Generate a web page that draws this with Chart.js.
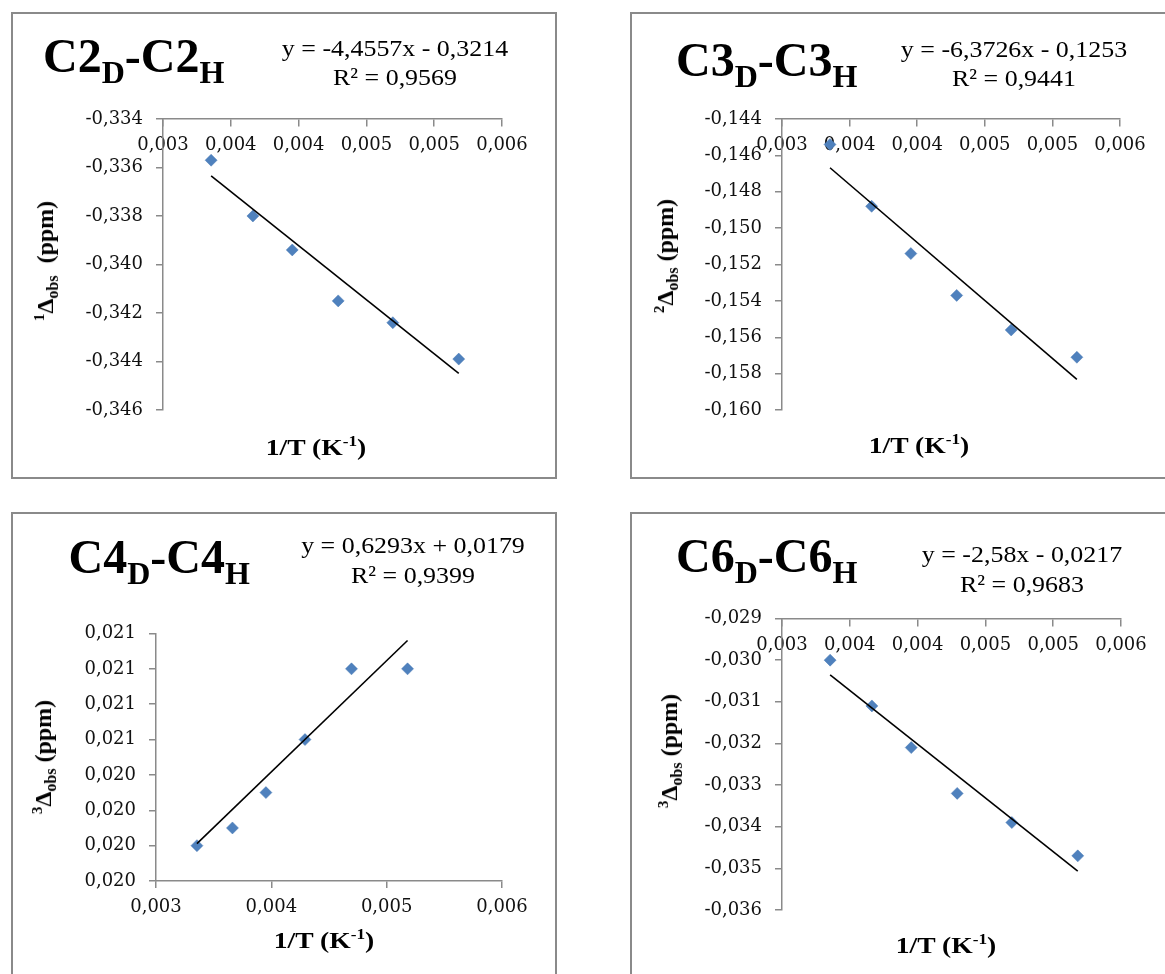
<!DOCTYPE html>
<html>
<head>
<meta charset="utf-8">
<script src="https://cdn.jsdelivr.net/npm/chart.js@4.4.1/dist/chart.umd.min.js"></script>
<style>
  html, body { margin:0; padding:0; background:#fff; width:1165px; height:974px; overflow:hidden; position:relative; }
  .box { position:absolute; border:2px solid #8a8a8a; box-sizing:border-box; }
  canvas { position:absolute; }
  .t { position:absolute; font-family:"Liberation Serif", "Times New Roman", serif; line-height:1; white-space:nowrap; color:#000; }
  .title { font-size:48px; font-weight:bold; }
  .title .s { font-size:32px; position:relative; top:11px; }
  .eq { font-size:24px; transform-origin:50% 50%; text-align:center; }
  .xt { font-size:24px; font-weight:bold; }
  .xt .sp { font-size:15px; position:relative; top:-9px; }
  .yt { font-size:24px; font-weight:bold; }
  .yt .sp { font-size:15px; position:relative; top:-9px; }
  .yt .sb { font-size:16px; position:relative; top:5px; }
</style>
</head>
<body>
<script>
// ---- data ----
const invT = [0.003355, 0.003663, 0.003953, 0.004292, 0.004695, 0.005181];   // 1/T (K^-1)
const c2Delta = [-0.3357, -0.3380, -0.3394, -0.3415, -0.3424, -0.3439];
const c3Delta = [-0.1454, -0.1488, -0.1514, -0.1537, -0.1556, -0.1571];
const c4Delta = [0.0200, 0.0201, 0.0203, 0.0206, 0.0210, 0.0210];
const c6Delta = [-0.0300, -0.0311, -0.0321, -0.0332, -0.0339, -0.0347];

const slopes = [-4.4557, -6.3726, 0.6293, -2.58];
const intercepts = [-0.3214, -0.1253, 0.0179, -0.0217];
const rSquared = [0.9569, 0.9441, 0.9399, 0.9683];

const xTicksA = [0.003, 0.0035, 0.004, 0.0045, 0.005, 0.0055];
const xLabelsA = ['0,003', '0,004', '0,004', '0,005', '0,005', '0,006'];
const xTicksB = [0.003, 0.004, 0.005, 0.006];
const xLabelsB = ['0,003', '0,004', '0,005', '0,006'];

const yTicksC2 = [-0.346, -0.344, -0.342, -0.340, -0.338, -0.336, -0.334];
const yLabelsC2 = ['-0,346', '-0,344', '-0,342', '-0,340', '-0,338', '-0,336', '-0,334'];
const yTicksC3 = [-0.160, -0.158, -0.156, -0.154, -0.152, -0.150, -0.148, -0.146, -0.144];
const yLabelsC3 = ['-0,160', '-0,158', '-0,156', '-0,154', '-0,152', '-0,150', '-0,148', '-0,146', '-0,144'];
const yTicksC4 = [0.0198, 0.0200, 0.0202, 0.0204, 0.0206, 0.0208, 0.0210, 0.0212];
const yLabelsC4 = ['0,020', '0,020', '0,020', '0,020', '0,021', '0,021', '0,021', '0,021'];
const yTicksC6 = [-0.036, -0.035, -0.034, -0.033, -0.032, -0.031, -0.030, -0.029];
const yLabelsC6 = ['-0,036', '-0,035', '-0,034', '-0,033', '-0,032', '-0,031', '-0,030', '-0,029'];

const titles = [['C2', 'D', 'C2', 'H'], ['C3', 'D', 'C3', 'H'], ['C4', 'D', 'C4', 'H'], ['C6', 'D', 'C6', 'H']];
const yTitleSup = ['1', '2', '3', '3'];

// ---- layout ----
const panels = [
  { box:[11, 12, 546, 467], canvas:[11, 12, 546, 466], area:[163, 119, 502, 410],
    y:c2Delta, yT:yTicksC2, yL:yLabelsC2, xT:xTicksA, xL:xLabelsA, xTop:true,
    title:[43, 72], eq:[395, 56.5, 85], yTitle:[45, 261], xTitle:[316, 455], gap:'&nbsp;' },
  { box:[630, 12, 600, 467], canvas:[630, 12, 535, 466], area:[782, 119, 1120, 410],
    y:c3Delta, yT:yTicksC3, yL:yLabelsC3, xT:xTicksA, xL:xLabelsA, xTop:true,
    title:[676, 76], eq:[1014, 57.5, 86.5], yTitle:[665, 256], xTitle:[919, 453], gap:'' },
  { box:[11, 512, 546, 500], canvas:[11, 512, 546, 462], area:[156, 633.5, 502, 881],
    y:c4Delta, yT:yTicksC4, yL:yLabelsC4, xT:xTicksB, xL:xLabelsB, xTop:false,
    title:[68.5, 572.7], eq:[413, 553.3, 582.7], yTitle:[43, 757], xTitle:[324, 948], gap:'' },
  { box:[630, 512, 600, 500], canvas:[630, 512, 535, 462], area:[782, 618.5, 1121, 910],
    y:c6Delta, yT:yTicksC6, yL:yLabelsC6, xT:xTicksA, xL:xLabelsA, xTop:true,
    title:[676, 571.7], eq:[1022, 561.7, 591.7], yTitle:[669, 751], xTitle:[946, 953], gap:'' }
];

const Y_SCALE_W = 100;   // fixed width reserved for the y tick labels
const X_SCALE_H = 50;    // fixed height reserved for bottom x tick labels

function fmt(v) { return String(v).replace('.', ','); }

function addText(cls, html, left, baseline, size, extra) {
  const d = document.createElement('div');
  d.className = 't ' + cls;
  d.innerHTML = html;
  d.style.left = left + 'px';
  d.style.top = (baseline - 0.8375 * size) + 'px';
  if (extra) Object.assign(d.style, extra);
  document.body.appendChild(d);
  return d;
}

const axisGray = '#8a8a8a';
const tickFont = { family: 'DejaVu Serif', size: 18 };

panels.forEach((p, k) => {
  const bx = document.createElement('div');
  bx.className = 'box';
  bx.style.left = p.box[0] + 'px'; bx.style.top = p.box[1] + 'px';
  bx.style.width = p.box[2] + 'px'; bx.style.height = p.box[3] + 'px';
  document.body.appendChild(bx);

  const cv = document.createElement('canvas');
  const [cl, ct, cw, ch] = p.canvas;
  cv.width = cw; cv.height = ch;
  cv.style.left = cl + 'px'; cv.style.top = ct + 'px';
  cv.style.width = cw + 'px'; cv.style.height = ch + 'px';
  document.body.appendChild(cv);

  const [aL, aT, aR, aB] = p.area;
  const xH = p.xTop ? 0 : X_SCALE_H;
  const padding = { left: aL - cl - Y_SCALE_W, top: aT - ct, right: cl + cw - aR, bottom: ct + ch - aB - xH };

  const pts = invT.map((x, i) => ({ x: x, y: p.y[i] }));
  const x0 = invT[0], x1 = invT[invT.length - 1];
  const trend = [x0, x1].map(x => ({ x: x, y: slopes[k] * x + intercepts[k] }));

  const yMin = p.yT[0], yMax = p.yT[p.yT.length - 1];
  const xMin = p.xT[0], xMax = p.xT[p.xT.length - 1];

  new Chart(cv, {
    type: 'scatter',
    data: {
      datasets: [
        { data: trend, showLine: true, borderColor: '#000', borderWidth: 1.6, pointRadius: 0, clip: false },
        { data: pts, pointStyle: 'rectRot', pointRadius: 6, backgroundColor: '#4F81BD', borderColor: '#4a7ab5', borderWidth: 0.5, clip: false }
      ]
    },
    options: {
      responsive: false, animation: false, events: [],
      layout: { padding },
      plugins: { legend: { display: false }, tooltip: { enabled: false } },
      scales: {
        x: {
          type: 'linear', min: xMin, max: xMax,
          position: p.xTop ? { y: yMax } : 'bottom',
          afterFit: s => { s.height = xH; },
          afterBuildTicks: s => { s.ticks = p.xT.map(v => ({ value: v })); },
          ticks: { callback: (v, i) => p.xL[i], font: tickFont, color: '#111', padding: 9, maxRotation: 0, minRotation: 0, autoSkip: false },
          grid: { display: true, drawOnChartArea: false, drawTicks: true, tickLength: 7, color: axisGray, lineWidth: 1.5 },
          border: { display: true, color: axisGray, width: 1.5 }
        },
        y: {
          type: 'linear', min: yMin, max: yMax, position: 'left',
          afterFit: s => { s.width = Y_SCALE_W; },
          afterBuildTicks: s => { s.ticks = p.yT.map(v => ({ value: v })); },
          ticks: { callback: (v, i) => p.yL[i], font: tickFont, color: '#111', padding: 13, autoSkip: false },
          grid: { display: true, drawOnChartArea: false, drawTicks: true, tickLength: 7, color: axisGray, lineWidth: 1.5 },
          border: { display: true, color: axisGray, width: 1.5 }
        }
      }
    }
  });

  // chart title with subscripts
  const tt = titles[k];
  addText('title', tt[0] + '<span class="s">' + tt[1] + '</span>-' + tt[2] + '<span class="s">' + tt[3] + '</span>', p.title[0], p.title[1], 48);

  // trendline equation
  const b = intercepts[k];
  const eq1 = 'y = ' + fmt(slopes[k]) + 'x ' + (b < 0 ? '-' : '+') + ' ' + fmt(Math.abs(b));
  const eq2 = 'R² = ' + fmt(rSquared[k]);
  addText('eq', eq1, p.eq[0], p.eq[1], 24, { transform: 'translateX(-50%) scaleX(1.08)' });
  addText('eq', eq2, p.eq[0], p.eq[2], 24, { transform: 'translateX(-50%) scaleX(1.08)' });

  // x axis title
  addText('xt', '1/T (K<span class="sp">-1</span>)', p.xTitle[0], p.xTitle[1], 24, { transform: 'translateX(-50%) scaleX(1.15)' });

  // y axis title (rotated)
  const yd = document.createElement('div');
  yd.className = 't yt';
  yd.innerHTML = '<span class="sp">' + yTitleSup[k] + '</span>Δ<span class="sb">obs</span>' + p.gap + ' (ppm)';
  yd.style.left = p.yTitle[0] + 'px';
  yd.style.top = p.yTitle[1] + 'px';
  yd.style.transform = 'translate(-50%, -50%) rotate(-90deg)';
  document.body.appendChild(yd);
});
</script>
</body>
</html>
